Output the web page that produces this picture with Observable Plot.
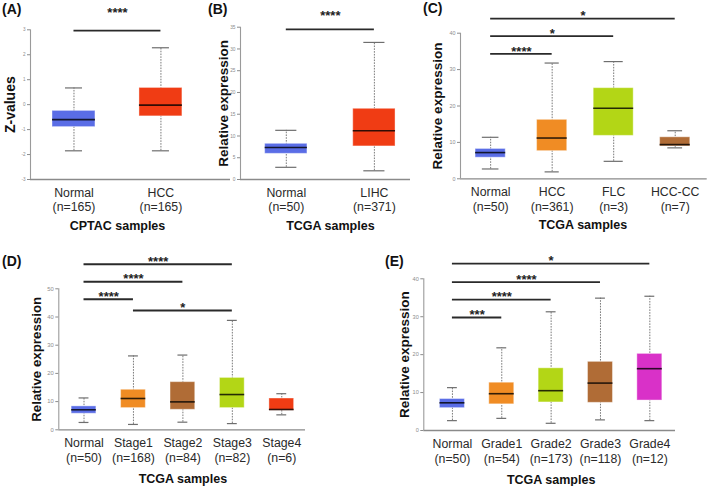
<!DOCTYPE html>
<html>
<head>
<meta charset="utf-8">
<script src="https://cdn.jsdelivr.net/npm/d3@7"></script>
<script src="https://cdn.jsdelivr.net/npm/@observablehq/plot@0.6"></script>
<style>
  html, body { margin: 0; padding: 0; background: #fff; }
  #wrap { position: relative; width: 709px; height: 486px; overflow: hidden; font-family: "Liberation Sans", Arial, sans-serif; }
  #wrap svg { position: absolute; left: 0; top: 0; }
  .tag { position: absolute; font: bold 14px "Liberation Sans", Arial, sans-serif; color: #111; line-height: 14px; }
</style>
</head>
<body>
<div id="wrap"></div>
<script>
// ---------------- DATA ----------------
// Panel A: CPTAC samples (Z-values)
const aGroups = ["Normal", "HCC"];
const aN = [165, 165];
const aLow = [-1.85, -1.85];
const aQ1 = [-0.90, -0.47];
const aMed = [-0.60, -0.02];
const aQ3 = [-0.25, 0.67];
const aHigh = [0.67, 2.28];
const aTicks = [-3, -2, -1, 0, 1, 2, 3];
const aSigFrom = [0], aSigTo = [1], aSigY = [2.97], aSigLabel = ["****"];

// Panel B: TCGA Normal vs LIHC
const bGroups = ["Normal", "LIHC"];
const bN = [50, 371];
const bLow = [2.8, 2.0];
const bQ1 = [5.9, 7.6];
const bMed = [7.35, 11.2];
const bQ3 = [8.2, 16.25];
const bHigh = [11.3, 31.5];
const bTicks = [0, 5, 10, 15, 20, 25, 30, 35];
const bSigFrom = [0], bSigTo = [1], bSigY = [34.5], bSigLabel = ["****"];

// Panel C: histological subtypes
const cGroups = ["Normal", "HCC", "FLC", "HCC-CC"];
const cN = [50, 361, 3, 7];
const cLow = [2.7, 1.9, 4.8, 8.5];
const cQ1 = [5.8, 7.6, 11.8, 8.9];
const cMed = [7.2, 11.2, 19.4, 9.4];
const cQ3 = [8.2, 16.2, 24.9, 11.4];
const cHigh = [11.4, 31.8, 32.2, 13.2];
const cTicks = [0, 10, 20, 30, 40];
const cSigFrom = [0, 0, 0], cSigTo = [1, 2, 3], cSigY = [34.3, 39.2, 44.0], cSigLabel = ["****", "*", "*"];

// Panel D: stages
const dGroups = ["Normal", "Stage1", "Stage2", "Stage3", "Stage4"];
const dN = [50, 168, 84, 82, 6];
const dLow = [2.6, 1.9, 2.7, 2.2, 5.3];
const dQ1 = [5.7, 7.7, 7.1, 7.7, 6.8];
const dMed = [7.1, 11.1, 9.9, 12.5, 7.2];
const dQ3 = [8.3, 14.2, 16.9, 18.4, 11.1];
const dHigh = [11.3, 26.2, 26.5, 38.8, 12.8];
const dTicks = [0, 10, 20, 30, 40, 50];
const dSigFrom = [0, 0, 0, 1], dSigTo = [1, 2, 3, 3], dSigY = [46.3, 52.5, 58.7, 42.3], dSigLabel = ["****", "****", "****", "*"];

// Panel E: grades
const eGroups = ["Normal", "Grade1", "Grade2", "Grade3", "Grade4"];
const eN = [50, 54, 173, 118, 12];
const eLow = [2.6, 3.2, 1.9, 2.8, 2.6];
const eQ1 = [5.9, 6.9, 7.4, 7.3, 7.9];
const eMed = [7.3, 9.7, 10.5, 12.5, 16.3];
const eQ3 = [8.3, 12.6, 16.4, 18.1, 20.2];
const eHigh = [11.3, 21.8, 31.3, 34.9, 35.4];
const eTicks = [0, 10, 20, 30, 40];
const eSigFrom = [0, 0, 0, 0], eSigTo = [1, 2, 3, 4], eSigY = [29.8, 34.5, 39.1, 44.0], eSigLabel = ["***", "****", "****", "*"];

// ---------------- LAYOUT / STYLE ----------------
const BLUE = "#5a6de6", RED = "#f03c14", ORANGE = "#f08c24", LIME = "#b3d616", BROWN = "#b06c36", MAGENTA = "#d931c8";
const FONT = "'Liberation Sans', Arial, sans-serif";

const panels = [
  { tag: "(A)", tagX: 2, tagY: 2,
    groups: aGroups, n: aN, low: aLow, q1: aQ1, med: aMed, q3: aQ3, high: aHigh, ticks: aTicks,
    sigFrom: aSigFrom, sigTo: aSigTo, sigY: aSigY, sigLabel: aSigLabel,
    colors: [BLUE, RED], boxHalf: [0.247, 0.247], capHalf: [0.098, 0.098],
    xDomain: [-0.5, 1.8], yDomain: [-3, 3],
    margins: [29.3, 479, 307, 30], tickFont: 4.6, yLabel: "Z-values", yLabelSize: 14, yLabelDx: -20,
    title: "CPTAC samples", catDy: 7.2, catLH: 1.16, titleDy: 46.5, starDy: -18 },
  { tag: "(B)", tagX: 208, tagY: 2,
    groups: bGroups, n: bN, low: bLow, q1: bQ1, med: bMed, q3: bQ3, high: bHigh, ticks: bTicks,
    sigFrom: bSigFrom, sigTo: bSigTo, sigY: bSigY, sigLabel: bSigLabel,
    colors: [BLUE, RED], boxHalf: [0.24, 0.24], capHalf: [0.12, 0.12],
    xDomain: [-0.52, 1.41], yDomain: [0, 35],
    margins: [26.7, 299, 307, 240], tickFont: 4.8, yLabel: "Relative expression", yLabelSize: 13.5, yLabelDx: -17.3,
    title: "TCGA samples", catDy: 7.2, catLH: 1.16, titleDy: 46.5, starDy: -14 },
  { tag: "(C)", tagX: 423, tagY: 1,
    groups: cGroups, n: cN, low: cLow, q1: cQ1, med: cMed, q3: cQ3, high: cHigh, ticks: cTicks,
    sigFrom: cSigFrom, sigTo: cSigTo, sigY: cSigY, sigLabel: cSigLabel,
    colors: [BLUE, ORANGE, LIME, BROWN], boxHalf: [0.245, 0.245, 0.325, 0.245], capHalf: [0.135, 0.115, 0.155, 0.12],
    xDomain: [-0.49, 3.52], yDomain: [0, 40],
    margins: [32.7, 2.3, 307.7, 460], tickFont: 5.4, yLabel: "Relative expression", yLabelSize: 13.5, yLabelDx: -23,
    title: "TCGA samples", catDy: 7.2, catLH: 1.18, titleDy: 46, starDy: -2.6 },
  { tag: "(D)", tagX: 2, tagY: 254,
    groups: dGroups, n: dN, low: dLow, q1: dQ1, med: dMed, q3: dQ3, high: dHigh, ticks: dTicks,
    sigFrom: dSigFrom, sigTo: dSigTo, sigY: dSigY, sigLabel: dSigLabel,
    colors: [BLUE, ORANGE, BROWN, LIME, RED], boxHalf: [0.25, 0.25, 0.25, 0.25, 0.25], capHalf: [0.1, 0.1, 0.1, 0.1, 0.1],
    xDomain: [-0.51, 4.48], yDomain: [0, 50],
    margins: [288.3, 404, 56.7, 58.3], tickFont: 5.8, yLabel: "Relative expression", yLabelSize: 13.3, yLabelDx: -21.6,
    title: "TCGA samples", catDy: 7, catLH: 1.22, titleDy: 49.5, starDy: -2.8 },
  { tag: "(E)", tagX: 385, tagY: 254,
    groups: eGroups, n: eN, low: eLow, q1: eQ1, med: eMed, q3: eQ3, high: eHigh, ticks: eTicks,
    sigFrom: eSigFrom, sigTo: eSigTo, sigY: eSigY, sigLabel: eSigLabel,
    colors: [BLUE, ORANGE, LIME, BROWN, MAGENTA], boxHalf: [0.253, 0.253, 0.253, 0.253, 0.253], capHalf: [0.1, 0.1, 0.1, 0.1, 0.1],
    xDomain: [-0.58, 4.52], yDomain: [0, 40],
    margins: [278.3, 34, 56, 423.3], tickFont: 5.6, yLabel: "Relative expression", yLabelSize: 13.5, yLabelDx: -19,
    title: "TCGA samples", catDy: 6.3, catLH: 1.26, titleDy: 49, starDy: -2.8 }
];

function panel(p) {
  const rows = p.groups.map((g, i) => ({
    i, g, n: p.n[i], low: p.low[i], q1: p.q1[i], med: p.med[i], q3: p.q3[i], high: p.high[i]
  }));
  const sig = p.sigFrom.map((f, k) => ({
    x1: f, x2: p.sigTo[k], y: p.sigY[k], label: p.sigLabel[k], mid: (f + p.sigTo[k]) / 2
  }));
  const [mt, mr, mb, ml] = p.margins;
  const bl = d => d.i - p.boxHalf[d.i], br = d => d.i + p.boxHalf[d.i];
  const cl = d => d.i - p.capHalf[d.i], cr = d => d.i + p.capHalf[d.i];
  const mid = (p.groups.length - 1) / 2;
  return Plot.plot({
    width: 709, height: 486,
    marginTop: mt, marginRight: mr, marginBottom: mb, marginLeft: ml,
    x: { domain: p.xDomain, axis: null },
    y: { domain: p.yDomain },
    color: { type: "identity" },
    style: { background: "transparent", fontFamily: FONT, overflow: "visible" },
    marks: [
      // axis lines
      Plot.ruleY([p.yDomain[0]], { stroke: "#8a8a8a", strokeWidth: 1.3 }),
      Plot.ruleX([p.xDomain[0]], { y1: p.yDomain[0], y2: p.yDomain[1], stroke: "#9a9a9a", strokeWidth: 1.1 }),
      Plot.axisY({ ticks: p.ticks, tickSize: 3, tickPadding: 2, fontSize: p.tickFont, color: "#8c8c8c",
                   tickFormat: d => String(d), label: null }),
      // whiskers
      Plot.ruleX(rows, { x: "i", y1: "low", y2: "high", stroke: "#7a7a7a", strokeWidth: 1, strokeDasharray: "1.6,1.2" }),
      Plot.ruleY(rows, { y: "low", x1: cl, x2: cr, stroke: "#6e6e6e", strokeWidth: 1.2 }),
      Plot.ruleY(rows, { y: "high", x1: cl, x2: cr, stroke: "#6e6e6e", strokeWidth: 1.2 }),
      // boxes
      Plot.rect(rows, { x1: bl, x2: br, y1: "q1", y2: "q3", fill: d => p.colors[d.i],
                        stroke: "white", strokeOpacity: 0.4, strokeWidth: 1 }),
      Plot.ruleY(rows, { y: "med", x1: bl, x2: br, stroke: "#000", strokeOpacity: 0.8, strokeWidth: 1.6 }),
      // significance brackets
      Plot.ruleY(sig, { y: "y", x1: "x1", x2: "x2", stroke: "#2a2a2a", strokeWidth: 1.8 }),
      Plot.text(sig, { x: "mid", y: "y", text: "label", dy: p.starDy, fontSize: 13, fontWeight: "bold", fill: "#222",
                       lineAnchor: "middle", textAnchor: "middle" }),
      // category labels
      Plot.text(rows, { x: "i", frameAnchor: "bottom", text: d => `${d.g}\n(n=${d.n})`, lineAnchor: "top",
                        textAnchor: "middle", dy: p.catDy, lineHeight: p.catLH, fontSize: 12.3, fill: "#2a2a2a" }),
      // x title
      Plot.text([p.title], { x: () => mid, frameAnchor: "bottom", text: d => d, dy: p.titleDy,
                             lineAnchor: "middle", textAnchor: "middle",
                             fontSize: 12.5, fontWeight: "bold", fill: "#111" }),
      // y title
      Plot.text([p.yLabel], { frameAnchor: "left", text: d => d, rotate: -90, dx: p.yLabelDx,
                              lineAnchor: "middle", textAnchor: "middle",
                              fontSize: p.yLabelSize, fontWeight: "bold", fill: "#111" })
    ]
  });
}

const wrap = document.getElementById("wrap");
for (const p of panels) {
  wrap.appendChild(panel(p));
  const t = document.createElement("div");
  t.className = "tag";
  t.textContent = p.tag;
  t.style.left = p.tagX + "px";
  t.style.top = p.tagY + "px";
  wrap.appendChild(t);
}
</script>
</body>
</html>
